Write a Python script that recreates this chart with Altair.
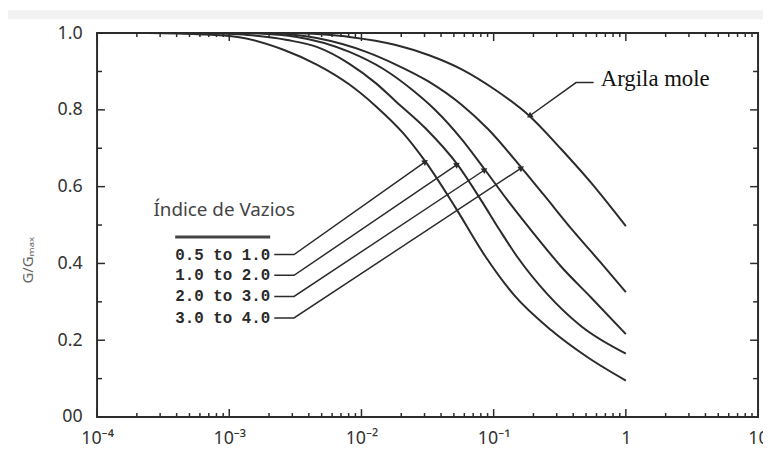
import altair as alt
import pandas as pd

W, H = 668, 388
INK = "#2b2b2b"

# ---- data (strain in %, G/Gmax) ----
series_names = ["0.5 to 1.0", "1.0 to 2.0", "2.0 to 3.0", "3.0 to 4.0", "Argila mole"]

strain_c1 = [0.000245, 0.000579, 0.001156, 0.0026, 0.00459, 0.00811, 0.0129, 0.0206, 0.0305, 0.0513,
             0.0859, 0.144, 0.273, 0.507, 1.0]
g_c1 = [1.0, 0.997, 0.990, 0.956, 0.918, 0.866, 0.809, 0.740, 0.665, 0.546,
        0.420, 0.316, 0.226, 0.157, 0.095]

strain_c2 = [0.000579, 0.001374, 0.00274, 0.00459, 0.00811, 0.0129, 0.0182, 0.0305, 0.0531, 0.0816,
             0.111, 0.1517, 0.2547, 0.457, 1.0]
g_c2 = [1.0, 0.995, 0.982, 0.964, 0.920, 0.869, 0.822, 0.752, 0.658, 0.561,
        0.487, 0.416, 0.320, 0.237, 0.165]

strain_c3 = [0.001374, 0.00325, 0.00811, 0.01456, 0.02443, 0.0363, 0.0578, 0.0859, 0.1276, 0.2143,
             0.3236, 0.543, 1.0]
g_c3 = [1.0, 0.990, 0.951, 0.907, 0.851, 0.799, 0.722, 0.644, 0.564, 0.466,
        0.392, 0.312, 0.216]

strain_c4 = [0.0023, 0.00459, 0.01087, 0.0182, 0.0321, 0.0578, 0.0906, 0.1626, 0.2415, 0.4055,
             0.646, 1.0]
g_c4 = [1.0, 0.987, 0.951, 0.918, 0.874, 0.812, 0.750, 0.649, 0.577, 0.482,
        0.402, 0.325]

strain_c5 = [0.00325, 0.00811, 0.0182, 0.0321, 0.0578, 0.102, 0.1866, 0.3236, 0.543, 1.0]
g_c5 = [1.0, 0.990, 0.969, 0.943, 0.905, 0.853, 0.784, 0.698, 0.611, 0.497]

# legend rows (left text position, row level) and arrow tips on the curves
legend_labels = ["0.5 to 1.0", "1.0 to 2.0", "2.0 to 3.0", "3.0 to 4.0"]
legend_text_strain = 0.00039
legend_row_g = [0.423, 0.369, 0.314, 0.258]
leader_start_strain = 0.00219
leader_knee_strain = 0.00309
tip_strain = [0.0305, 0.0531, 0.0859, 0.1626]
tip_g = [0.665, 0.658, 0.644, 0.649]

argila_leader_strain = [0.571, 0.42, 0.1866]
argila_leader_g = [0.871, 0.871, 0.784]
argila_label = "Argila mole"
argila_label_pos = (0.646, 0.862)

legend_title = "Índice de Vazios"
legend_title_pos = (0.000267, 0.523)
legend_bar_strain = [0.00039, 0.00204]
legend_bar_g = 0.469

x_tick_values = [1e-4, 1e-3, 1e-2, 1e-1, 1, 10]
x_tick_labels = ["10⁻⁴", "10⁻³", "10⁻²", "10⁻¹", "1", "10"]
x_minor_mult = [2, 3, 4, 5, 6, 7, 8, 9]
y_major = [0.0, 0.2, 0.4, 0.6, 0.8, 1.0]
y_minor = [0.1, 0.3, 0.5, 0.7, 0.9]
y_title = "G/Gₘₐₓ"

# ---- tables ----
rows = []
for name, xs, ys in zip(series_names,
                        [strain_c1, strain_c2, strain_c3, strain_c4, strain_c5],
                        [g_c1, g_c2, g_c3, g_c4, g_c5]):
    for i, (a, b) in enumerate(zip(xs, ys)):
        rows.append({"curve": name, "idx": i, "strain": a, "g": b})
curves = pd.DataFrame(rows)

lead = []
for k, lab in enumerate(legend_labels):
    pts = [(leader_start_strain, legend_row_g[k]), (leader_knee_strain, legend_row_g[k]),
           (tip_strain[k], tip_g[k])]
    for s, (a, b) in enumerate(pts):
        lead.append({"leader": lab, "seq": s, "strain": a, "g": b})
for s, (a, b) in enumerate(zip(argila_leader_strain, argila_leader_g)):
    lead.append({"leader": "argila", "seq": s, "strain": a, "g": b})
leaders = pd.DataFrame(lead)

heads = pd.DataFrame({
    "strain": tip_strain + [argila_leader_strain[-1]],
    "g": tip_g + [argila_leader_g[-1]],
    "ang": [326, 326, 326, 326, 146],
})

x_minor = [m * d for d in x_tick_values[:-1] for m in x_minor_mult]

x_scale = alt.Scale(type="log", domain=[1e-4, 10])
y_scale = alt.Scale(domain=[0, 1])

label_expr = "[" + ",".join("'%s'" % t for t in x_tick_labels) + "][round(log(datum.value)/LN10)+4]"

X = alt.X("strain:Q", scale=x_scale,
          axis=alt.Axis(values=x_tick_values, labelExpr=label_expr, ticks=False, domain=False,
                        grid=False, labelFontSize=18, labelPadding=13, labelFlush=False,
                        labelFont="Noto Sans", labelColor="#333", title=None))
Y = alt.Y("g:Q", scale=y_scale,
          axis=alt.Axis(values=y_major,
                        labelExpr="datum.value == 0 ? '00' : format(datum.value, '.1f')",
                        ticks=False, domain=False, grid=False, labelFontSize=18, labelPadding=15,
                        labelFont="Noto Sans", labelColor="#333",
                        title=y_title, titleFont="Noto Sans", titleFontSize=15,
                        titleFontWeight="normal", titleColor="#666",
                        titleX=-70, titleY=229, titleAngle=270,
                        titleAlign="center", titleBaseline="middle"))

Xp = alt.X("strain:Q", scale=x_scale)
Yp = alt.Y("g:Q", scale=y_scale)

curve_layer = alt.Chart(curves).mark_line(color=INK, strokeWidth=2, interpolate="monotone").encode(
    x=X, y=Y, detail="curve:N", order="idx:Q")

leader_layer = alt.Chart(leaders).mark_line(color=INK, strokeWidth=1.5).encode(
    x=Xp, y=Yp, detail="leader:N", order="seq:Q")

head_layer = alt.Chart(heads).mark_point(shape="triangle-right", filled=True, size=45,
                                         color=INK, opacity=1).encode(
    x=Xp, y=Yp, angle=alt.Angle("ang:Q", scale=None))


def xticks(vals, y0, y1):
    return alt.Chart(pd.DataFrame({"strain": vals})).mark_rule(color=INK, strokeWidth=1.5).encode(
        x=Xp, y=alt.value(y0), y2=alt.value(y1))


def yticks(vals, x0, x1):
    return alt.Chart(pd.DataFrame({"g": vals})).mark_rule(color=INK, strokeWidth=1.5).encode(
        y=Yp, x=alt.value(x0), x2=alt.value(x1))


tick_layers = [
    xticks(x_tick_values, H, H - 8), xticks(x_minor, H, H - 4),
    xticks(x_tick_values, 0, 8), xticks(x_minor, 0, 4),
    yticks(y_major, 0, 8), yticks(y_minor, 0, 5),
    yticks(y_major, W, W - 8), yticks(y_minor, W, W - 5),
]

legend_bar = alt.Chart(pd.DataFrame({"strain": [legend_bar_strain[0]], "s2": [legend_bar_strain[1]],
                                     "g": [legend_bar_g]})).mark_rule(color="#444", strokeWidth=3).encode(
    x=Xp, x2="s2:Q", y=Yp)

legend_rows = alt.Chart(pd.DataFrame({"strain": [legend_text_strain] * 4, "g": legend_row_g,
                                      "t": legend_labels})).mark_text(
    font="Liberation Mono", fontWeight="bold", fontSize=16, align="left", baseline="middle",
    color="#2a2a2a").encode(x=Xp, y=Yp, text="t:N")

title_text = alt.Chart(pd.DataFrame({"strain": [legend_title_pos[0]], "g": [legend_title_pos[1]],
                                     "t": [legend_title]})).mark_text(
    font="Noto Sans", fontSize=19, align="left", baseline="alphabetic", color="#444").encode(
    x=Xp, y=Yp, text="t:N")

argila_text = alt.Chart(pd.DataFrame({"strain": [argila_label_pos[0]], "g": [argila_label_pos[1]],
                                      "t": [argila_label]})).mark_text(
    font="Liberation Serif", fontSize=23, align="left", baseline="alphabetic", color="#111").encode(
    x=Xp, y=Yp, text="t:N")

band = alt.Chart(pd.DataFrame({"a": [0]})).mark_rect(color="#f2f2f2").encode(
    x=alt.value(-90), x2=alt.value(W + 10), y=alt.value(-23), y2=alt.value(-14))

chart = alt.layer(
    curve_layer, band, leader_layer, head_layer, *tick_layers,
    legend_bar, legend_rows, title_text, argila_text
).properties(
    width=W, height=H, background="white",
    padding={"left": 90, "top": 23, "right": 5, "bottom": 31},
    autosize=alt.AutoSizeParams(type="none"),
).configure_view(stroke=INK, strokeWidth=2)

chart.save("out.html", embed_options={"renderer": "svg", "actions": False})
